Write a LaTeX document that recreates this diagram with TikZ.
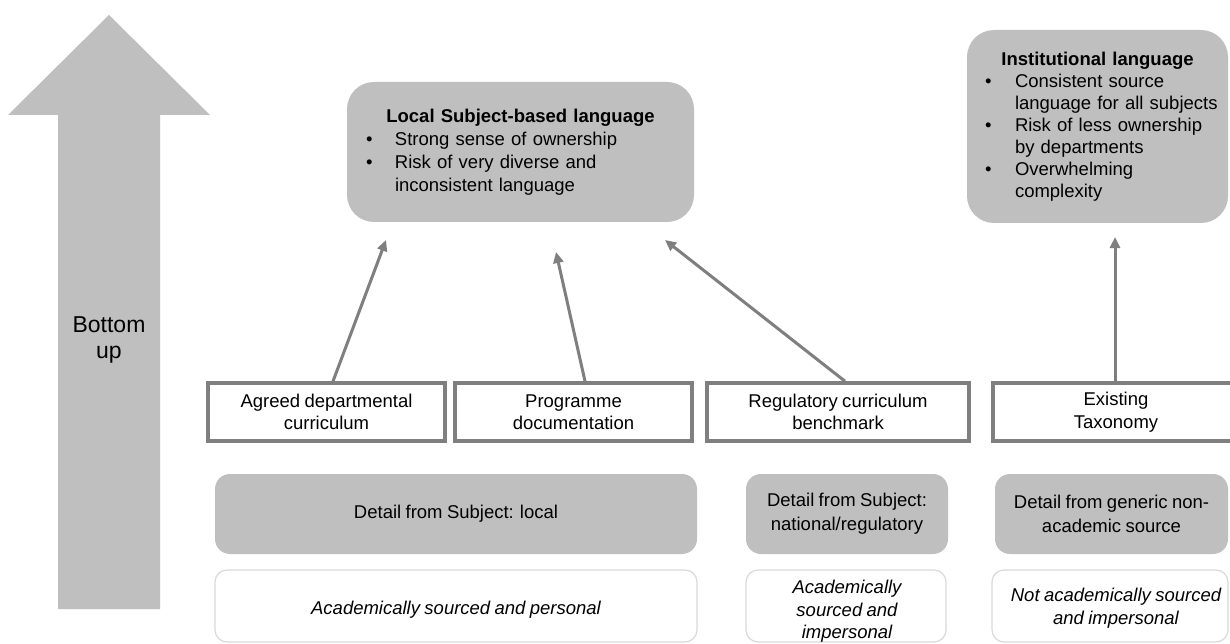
\documentclass[tikz,border=0pt]{standalone}
\usepackage{fontspec}
\setmainfont[WordSpace=0.85]{Liberation Sans}
\usetikzlibrary{arrows.meta,calc}

\definecolor{panel}{HTML}{BFBFBF}
\definecolor{edge}{HTML}{7F7F7F}
\definecolor{softedge}{HTML}{D9D9D9}

% bullet lists inside the two language panels
\newlength{\bulpre}
\newlength{\bulhang}
\newcommand{\bline}[1]{\par\noindent\makebox[\bulhang][l]{\hspace*{\bulpre}\textbullet}#1}
\newcommand{\contline}[1]{\par\noindent\hspace*{\bulhang}#1}

\tikzset{
  txt/.style={font=\fontsize{18.5}{22.5}\selectfont, align=center, inner sep=0pt},
  langpanel/.style={fill=panel, rounded corners=27pt, align=left, inner ysep=0pt},
  srcbox/.style={txt, draw=edge, line width=3.5pt, fill=white, minimum height=58pt},
  detailbox/.style={txt, fill=panel, rounded corners=15pt, minimum height=80pt},
  natbox/.style={draw=softedge, line width=1.2pt, fill=white, rounded corners=12pt, minimum height=72pt, inner sep=0pt},
  nattext/.style={txt, font=\fontsize{18.5}{22.5}\selectfont\itshape},
  conn/.style={draw=edge, line width=3pt, -{Triangle[length=11pt,width=10pt]}}
}

\begin{document}
\begin{tikzpicture}[x=1pt,y=-1pt]
\clip (0,0) rectangle (1230,644);
\fill[white] (0,0) rectangle (1230,644);

% direction arrow on the left
\fill[panel] (58,609) -- (58,115) -- (8,115) -- (109,15) -- (210,115) -- (160,115) -- (160,609) -- cycle;
\node[txt, font=\fontsize{23}{26}\selectfont] (bottomup) at (109,340) {Bottom\\up};

% language panels
\node[langpanel, minimum width=347pt, minimum height=140pt, text width=317pt, inner xsep=15pt,
      font=\fontsize{18.5}{23}\selectfont] (local) at (520.5,152)
  {\setlength{\bulpre}{4pt}\setlength{\bulhang}{33pt}\parskip=0pt
   {\centering\bfseries Local Subject-based language\par}
   \bline{Strong sense of ownership}
   \bline{Risk of very diverse and}
   \contline{inconsistent language}\par};

\node[langpanel, minimum width=261pt, minimum height=193pt, text width=241pt, inner xsep=10pt,
      font=\fontsize{18.5}{22}\selectfont] (inst) at (1097.5,126.5)
  {\setlength{\bulpre}{8pt}\setlength{\bulhang}{38pt}\parskip=0pt
   {\centering\bfseries Institutional language\par}
   \bline{Consistent source}
   \contline{language for all subjects}
   \bline{Risk of less ownership}
   \contline{by departments}
   \bline{Overwhelming}
   \contline{complexity}\par};

% source documents
\node[srcbox, minimum width=237pt] (s1) at (326.5,412) {Agreed departmental\\curriculum};
\node[srcbox, minimum width=237pt] (s2) at (573.5,412) {Programme\\documentation};
\node[srcbox, minimum width=262pt] (s3) at (838,412) {Regulatory curriculum\\benchmark};
\node[srcbox, minimum width=246pt] (s4) at (1116,412) {Existing\\Taxonomy};

% level of detail
\node[detailbox, minimum width=482pt] (d1) at (456,514) {Detail from Subject: local};
\node[detailbox, minimum width=202pt, font=\fontsize{18.5}{24}\selectfont] (d2) at (847,514) {Detail from Subject:\\national/regulatory};
\node[detailbox, minimum width=233pt, font=\fontsize{18.5}{24}\selectfont] (d3) at (1111.5,514) {Detail from generic non-\\academic source};

% nature of the source
\node[natbox, minimum width=482pt] (w1) at (456,606) {};
\node[natbox, minimum width=200pt] (w2) at (846,606) {};
\node[natbox, minimum width=236pt] (w3) at (1110,606) {};
\node[nattext] (w1t) at (456,610) {Academically sourced and personal};
\node[nattext] (w2t) at (847,611.5) {Academically\\sourced and\\impersonal};
\node[nattext] (w3t) at (1116,608) {Not academically sourced\\and impersonal};

% connectors from the sources up to the panels
\coordinate (t1) at (386,240);
\coordinate (t2) at (556,252);
\coordinate (t3) at (665,240);
\coordinate (t4) at (1115,237);
\draw[conn] ($(s1.north)+(6.5,0)$) -- (t1);
\draw[conn] ($(s2.north)+(11.5,0)$) -- (t2);
\draw[conn] ($(s3.north)+(7,0)$) -- (t3);
\draw[conn] ($(s4.north)+(-1,0)$) -- (t4);
\end{tikzpicture}
\end{document}
